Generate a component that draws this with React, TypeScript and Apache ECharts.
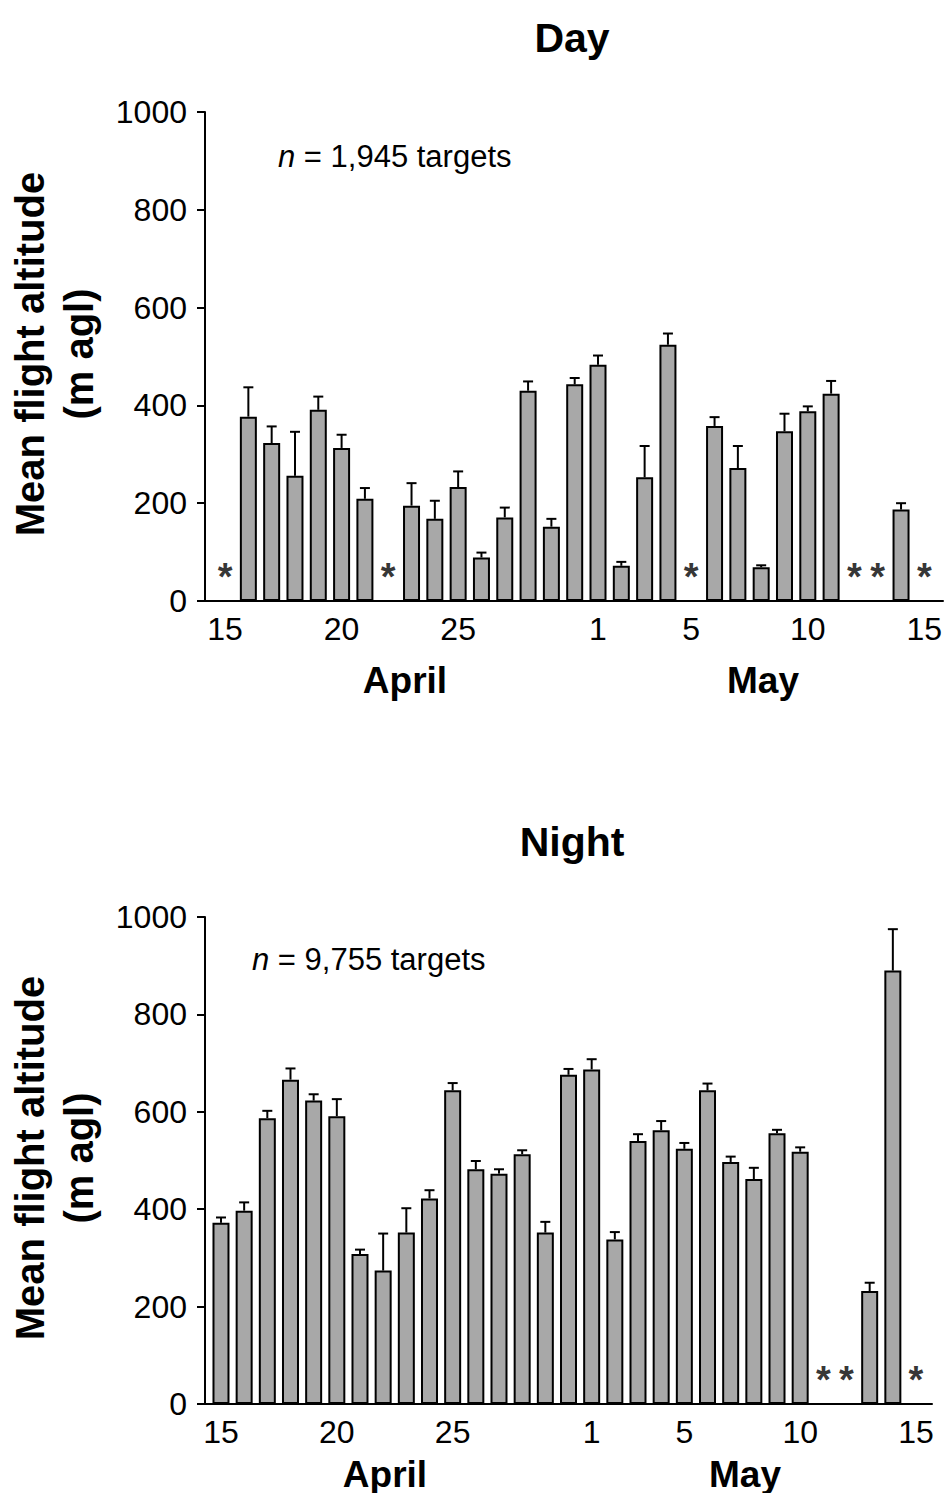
import React, { useEffect, useRef } from "react";
import * as echarts from "echarts";

// One bar per date, 15 April to 15 May
const dates = [
  "Apr 15", "Apr 16", "Apr 17", "Apr 18", "Apr 19", "Apr 20", "Apr 21", "Apr 22",
  "Apr 23", "Apr 24", "Apr 25", "Apr 26", "Apr 27", "Apr 28", "Apr 29", "Apr 30",
  "May 1", "May 2", "May 3", "May 4", "May 5", "May 6", "May 7", "May 8",
  "May 9", "May 10", "May 11", "May 12", "May 13", "May 14", "May 15",
];

const tickIndex = [0, 5, 10, 16, 20, 25, 30];
const tickText = ["15", "20", "25", "1", "5", "10", "15"];
const yTicks = [0, 200, 400, 600, 800, 1000];

// Daytime mean flight altitude (m agl) and standard error; null = no targets
const dayMean = [
  null, 377, 323, 256, 391, 313, 209, null, 195, 168,
  233, 89, 171, 430, 152, 443, 483, 72, 253, 524,
  null, 358, 272, 69, 347, 388, 424, null, null, 187, null,
];
const daySE = [
  null, 60, 34, 90, 27, 27, 22, null, 46, 37,
  32, 10, 20, 19, 16, 13, 19, 8, 64, 23,
  null, 18, 45, 4, 36, 10, 26, null, null, 13, null,
];

// Night-time mean flight altitude (m agl) and standard error
const nightMean = [
  372, 397, 587, 666, 623, 591, 308, 274, 352, 422,
  644, 482, 473, 513, 352, 676, 687, 338, 540, 562,
  524, 644, 497, 462, 556, 518, null, null, 232, 890, null,
];
const nightSE = [
  11, 17, 15, 23, 13, 35, 9, 76, 50, 17,
  15, 17, 9, 8, 22, 12, 21, 15, 14, 19,
  12, 14, 11, 23, 7, 9, null, null, 17, 85, null,
];

const dayCount = "1,945";
const nightCount = "9,755";

const FONT = "'Liberation Sans', Arial, Helvetica, sans-serif";

function barData(mean: (number | null)[]) {
  return mean
    .map((v, i) => (v == null ? null : { value: [i, v], name: dates[i] }))
    .filter((d) => d !== null);
}
function errData(mean: (number | null)[], se: (number | null)[]) {
  return mean
    .map((v, i) => (v == null || se[i] == null ? null : [i, v, se[i]]))
    .filter((d) => d !== null);
}
function starData(mean: (number | null)[]) {
  return mean
    .map((v, i) => (v == null ? [i, 0] : null))
    .filter((d) => d !== null);
}

function errorRender(params: any, api: any) {
  const x = api.value(0);
  const m = api.value(1);
  const e = api.value(2);
  const p0 = api.coord([x, m]);
  const p1 = api.coord([x, m + e]);
  const st = { stroke: "#000", lineWidth: 2 };
  return {
    type: "group",
    children: [
      { type: "line", shape: { x1: p0[0], y1: p0[1], x2: p1[0], y2: p1[1] }, style: st },
      { type: "line", shape: { x1: p1[0] - 5, y1: p1[1], x2: p1[0] + 5, y2: p1[1] }, style: st },
    ],
  };
}

function xAxisFor(gridIndex: number, min: number, max: number) {
  return {
    type: "value",
    gridIndex,
    min,
    max,
    axisLine: { show: true, onZero: false, lineStyle: { color: "#000", width: 2 } },
    axisTick: { show: false },
    splitLine: { show: false },
    axisLabel: {
      customValues: tickIndex,
      formatter: (v: number) => tickText[tickIndex.indexOf(Math.round(v))] ?? "",
      color: "#000",
      fontFamily: FONT,
      fontSize: 32,
      margin: 12,
    },
  };
}

function yAxisFor(gridIndex: number) {
  return {
    type: "value",
    gridIndex,
    min: 0,
    max: 1000,
    interval: 200,
    axisLine: { show: true, onZero: false, lineStyle: { color: "#000", width: 2 } },
    axisTick: { show: true, length: 8, lineStyle: { color: "#000", width: 2 } },
    splitLine: { show: false },
    axisLabel: {
      customValues: yTicks,
      formatter: (v: number) => String(v),
      color: "#000",
      fontFamily: FONT,
      fontSize: 32,
      margin: 18,
    },
  };
}

function panelSeries(idx: number, mean: (number | null)[], se: (number | null)[]) {
  return [
    {
      type: "bar",
      xAxisIndex: idx,
      yAxisIndex: idx,
      barWidth: 17,
      data: barData(mean),
      itemStyle: { color: "#a8a8a8", borderColor: "#000", borderWidth: 2 },
      z: 2,
    },
    {
      type: "custom",
      xAxisIndex: idx,
      yAxisIndex: idx,
      renderItem: errorRender,
      data: errData(mean, se),
      z: 3,
    },
    {
      type: "scatter",
      xAxisIndex: idx,
      yAxisIndex: idx,
      symbolSize: 1,
      itemStyle: { color: "rgba(0,0,0,0)" },
      data: starData(mean),
      label: {
        show: true,
        formatter: "*",
        position: "top",
        distance: 5,
        color: "#000",
        fontFamily: FONT,
        fontWeight: "bold",
        fontSize: 38,
      },
      z: 4,
    },
  ];
}

function axisTitle(cx: number, cy: number) {
  return {
    type: "text",
    x: cx,
    y: cy,
    rotation: Math.PI / 2,
    style: {
      text: "Mean flight altitude\n(m agl)",
      align: "center",
      verticalAlign: "middle",
      fontFamily: FONT,
      fontWeight: "bold",
      fontSize: 40,
      lineHeight: 49,
      fill: "#000",
    },
  };
}

function countText(x: number, y: number, count: string) {
  return {
    type: "text",
    x,
    y,
    style: {
      text: `{i|n} = ${count} targets`,
      verticalAlign: "middle",
      fontFamily: FONT,
      fontSize: 31,
      fill: "#000",
      rich: { i: { fontStyle: "italic", fontFamily: FONT, fontSize: 31, fill: "#000" } },
    },
  };
}

function monthText(x: number, y: number, text: string) {
  return {
    type: "text",
    x,
    y,
    style: {
      text,
      align: "center",
      verticalAlign: "middle",
      fontFamily: FONT,
      fontWeight: "bold",
      fontSize: 37,
      fill: "#000",
    },
  };
}

export default function App() {
  const ref = useRef<HTMLDivElement>(null);

  useEffect(() => {
    if (!ref.current) return;
    const chart = echarts.init(ref.current, undefined, { renderer: "svg" });
    chart.setOption({
      animation: false,
      backgroundColor: "#fff",
      title: [
        {
          text: "Day",
          left: 567,
          top: 12,
          textAlign: "center",
          textStyle: { fontFamily: FONT, fontWeight: "bold", fontSize: 41, color: "#000" },
        },
        {
          text: "Night",
          left: 567,
          top: 816,
          textAlign: "center",
          textStyle: { fontFamily: FONT, fontWeight: "bold", fontSize: 41, color: "#000" },
        },
      ],
      grid: [
        { left: 205, right: 9, top: 112, height: 489 },
        { left: 205, right: 20, top: 917, height: 487 },
      ],
      xAxis: [xAxisFor(0, -0.86, 30.8), xAxisFor(1, -0.69, 30.69)],
      yAxis: [yAxisFor(0), yAxisFor(1)],
      series: [...panelSeries(0, dayMean, daySE), ...panelSeries(1, nightMean, nightSE)],
      graphic: [
        axisTitle(54, 354),
        axisTitle(54, 1158),
        countText(278, 156, dayCount),
        countText(252, 959, nightCount),
        monthText(405, 680, "April"),
        monthText(763, 680, "May"),
        monthText(385, 1474, "April"),
        monthText(745, 1474, "May"),
      ],
    });
    return () => chart.dispose();
  }, []);

  return (
    <div
      ref={ref}
      style={{ position: "absolute", left: 0, top: 0, width: 952, height: 1493 }}
    />
  );
}
